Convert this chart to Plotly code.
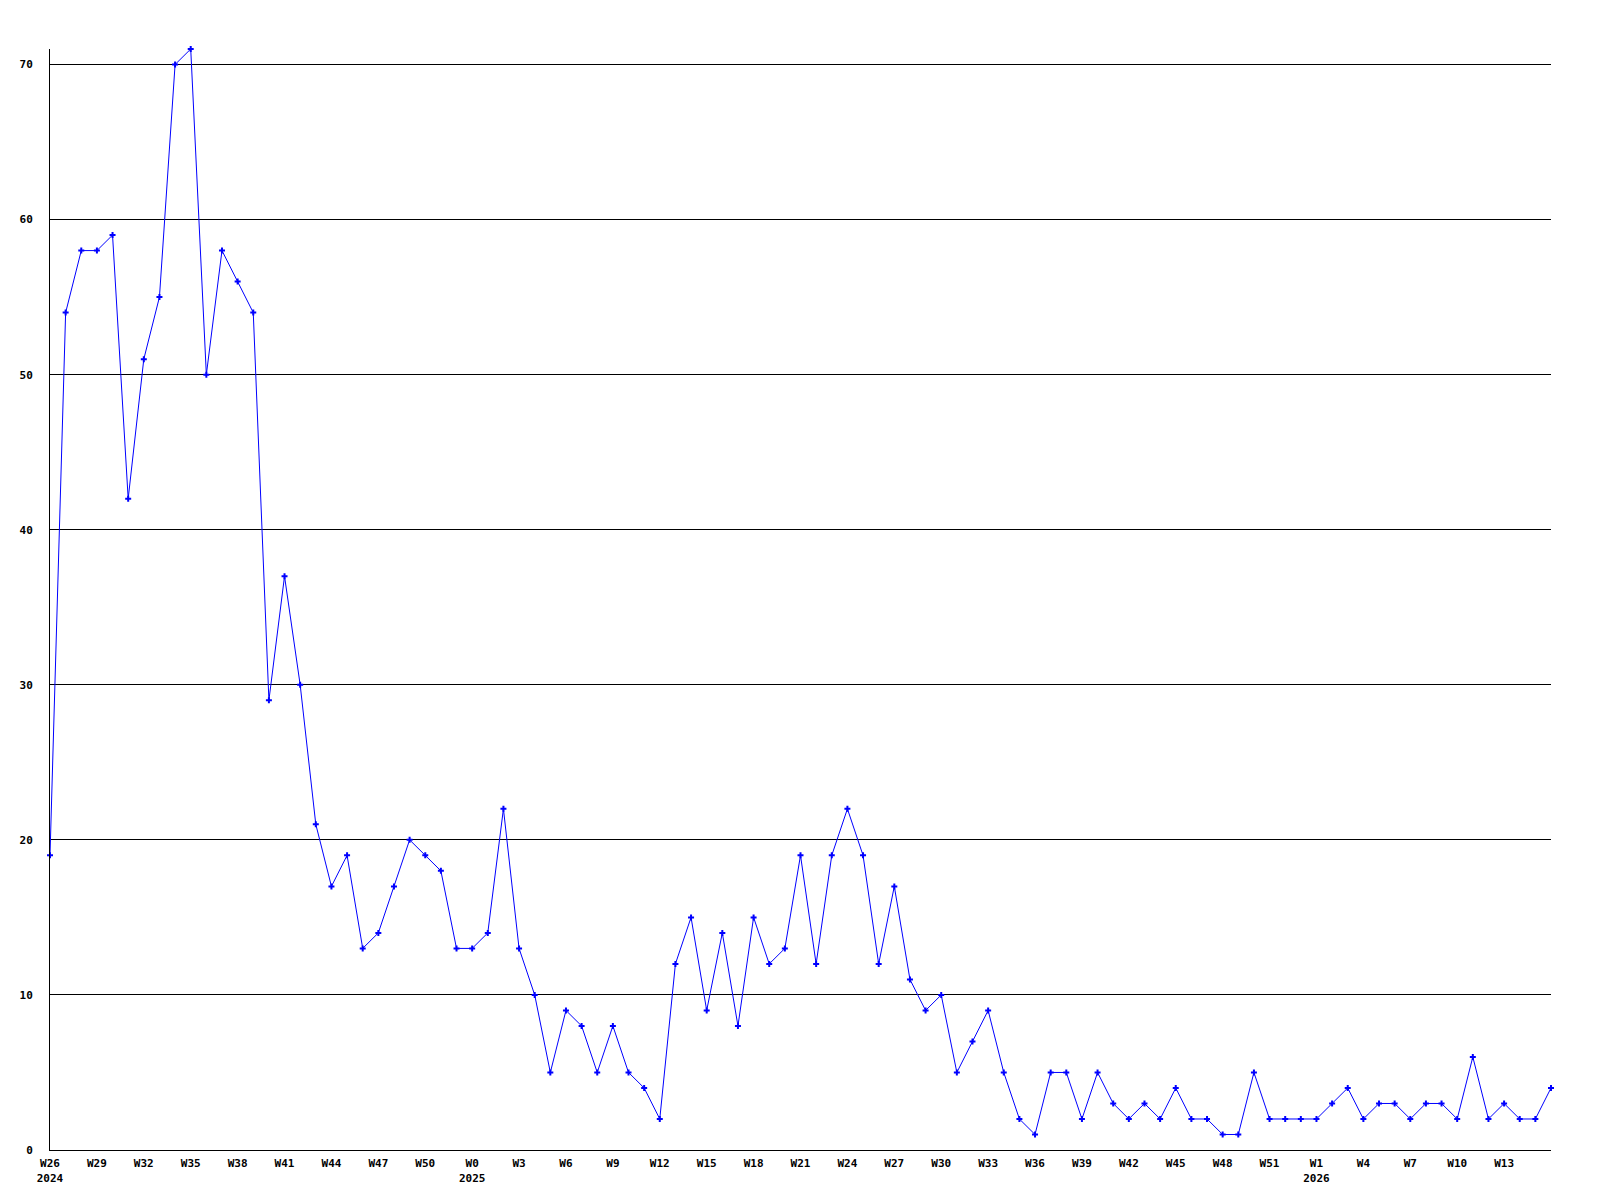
import plotly.graph_objects as go

# ---- data ----
weeks_2024 = [f"W{w}" for w in range(26, 53)]
weeks_2025 = [f"W{w}" for w in range(0, 53)]
weeks_2026 = [f"W{w}" for w in range(0, 17)]
years = [2024] * len(weeks_2024) + [2025] * len(weeks_2025) + [2026] * len(weeks_2026)
week_labels = weeks_2024 + weeks_2025 + weeks_2026

values = [
    19, 54, 58, 58, 59, 42, 51, 55, 70, 71, 50, 58, 56, 54, 29, 37, 30, 21, 17, 19,
    13, 14, 17, 20, 19, 18, 13,
    13, 14, 22, 13, 10, 5, 9, 8, 5, 8, 5, 4, 2, 12, 15, 9, 14, 8, 15, 12, 13, 19,
    12, 19, 22, 19, 12, 17, 11, 9, 10, 5, 7, 9, 5, 2, 1, 5, 5, 2, 5, 3, 2, 3, 2,
    4, 2, 2, 1, 1, 5, 2, 2,
    2, 2, 3, 4, 2, 3, 3, 2, 3, 3, 2, 6, 2, 3, 2, 2, 4,
]

categories = [f"{y}-{w}" for y, w in zip(years, week_labels)]

# tick labels every third week (not at the final edge point),
# year shown under the first label of each year
tick_vals = []
tick_text = []
seen_years = set()
for i in range(0, len(categories) - 1, 3):
    label = week_labels[i]
    if years[i] not in seen_years:
        seen_years.add(years[i])
        label = f"{label}<br>{years[i]}"
    tick_vals.append(categories[i])
    tick_text.append(label)

y_ticks = [0, 10, 20, 30, 40, 50, 60, 70]

font = dict(family="DejaVu Sans Mono", size=11, color="black", weight="bold")

fig = go.Figure(
    go.Scatter(
        x=categories,
        y=values,
        mode="lines+markers",
        line=dict(color="#0000ff", width=1),
        marker=dict(symbol="cross", size=5, color="#0000ff"),
        cliponaxis=False,
    )
)

fig.update_layout(
    width=1584,
    height=1184,
    margin=dict(l=42, r=41, t=41, b=42, autoexpand=False),
    paper_bgcolor="white",
    plot_bgcolor="white",
    showlegend=False,
    font=font,
)

fig.update_xaxes(
    type="category",
    range=[0, len(categories) - 1],
    tickmode="array",
    tickvals=tick_vals,
    ticktext=tick_text,
    showgrid=False,
    showline=True,
    linecolor="black",
    linewidth=1,
    ticks="",
    tickfont=font,
    ticklabelstandoff=3,
    zeroline=False,
    automargin=False,
)

fig.update_yaxes(
    range=[0, 71],
    tickmode="array",
    tickvals=y_ticks,
    ticktext=[str(v) for v in y_ticks],
    showgrid=True,
    gridcolor="black",
    gridwidth=1,
    showline=True,
    linecolor="black",
    linewidth=1,
    ticks="",
    tickfont=font,
    ticklabelstandoff=14,
    zeroline=False,
    automargin=False,
)

fig.write_html("out.html")
